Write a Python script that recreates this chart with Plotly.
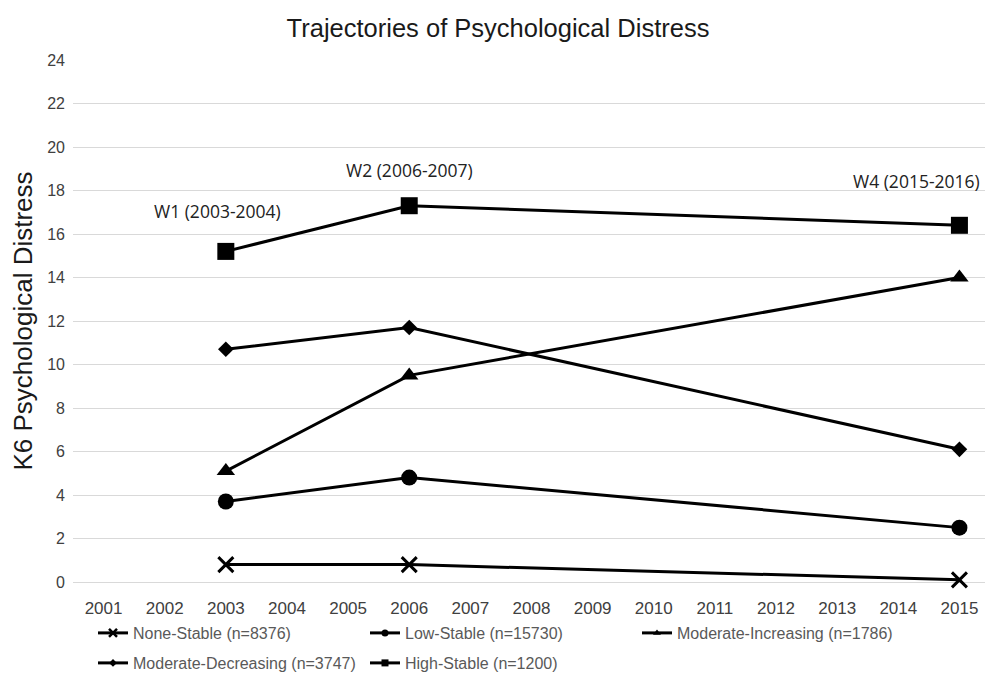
import plotly.graph_objects as go

years = list(range(2001, 2016))
wave_years = [2003, 2006, 2015]

series_names = [
    "None-Stable (n=8376)",
    "Low-Stable (n=15730)",
    "Moderate-Increasing (n=1786)",
    "Moderate-Decreasing (n=3747)",
    "High-Stable (n=1200)",
]
none_stable = [0.8, 0.8, 0.1]
low_stable = [3.7, 4.8, 2.5]
moderate_increasing = [5.1, 9.5, 14.0]
moderate_decreasing = [10.7, 11.7, 6.1]
high_stable = [15.2, 17.3, 16.4]

wave_labels = ["W1 (2003-2004)", "W2 (2006-2007)", "W4 (2015-2016)"]
wave_label_x = [2002.87, 2006.0, 2014.3]
wave_label_y = [17.06, 18.94, 18.44]

series_values = [none_stable, low_stable, moderate_increasing, moderate_decreasing, high_stable]
symbols = ["x-thin", "circle", "triangle-up", "diamond", "square"]
sizes = [15, 16, 16, 12, 17]
legend_sizes = [8, 7, 7, 6, 7]
legend_ids = ["legend", "legend", "legend", "legend2", "legend2"]

# The page body has an 8px margin, so the figure is drawn 8px smaller and offset.
W, H = 985, 668
OFF = 8

fig = go.Figure()
for name, vals, sym, sz in zip(series_names, series_values, symbols, sizes):
    marker = dict(symbol=sym, size=sz, color="black")
    if sym == "x-thin":
        marker["line"] = dict(width=3, color="black")
    fig.add_trace(go.Scatter(
        x=wave_years, y=vals, name=name, mode="lines+markers",
        line=dict(color="black", width=3), marker=marker, cliponaxis=False,
        showlegend=False,
    ))

# legend-only entries with small symbols, as in the reference
for name, sym, lsz, lg in zip(series_names, symbols, legend_sizes, legend_ids):
    marker = dict(symbol=sym, size=lsz, color="black")
    if sym == "x-thin":
        marker["line"] = dict(width=2.5, color="black")
    fig.add_trace(go.Scatter(
        x=[None], y=[None], name=name, mode="lines+markers",
        line=dict(color="black", width=3), marker=marker,
        legend=lg, showlegend=True,
    ))

for t, xx, yy in zip(wave_labels, wave_label_x, wave_label_y):
    fig.add_annotation(x=xx, y=yy, text=t, showarrow=False,
                       font=dict(family="Open Sans", size=17.5, color="#222"))

legend_common = dict(orientation="h", xref="container", yref="container",
                     xanchor="left", yanchor="middle",
                     entrywidth=227, entrywidthmode="pixels",
                     font=dict(size=16, color="#595959"),
                     traceorder="normal", bgcolor="rgba(0,0,0,0)")

fig.update_layout(
    width=W, height=H,
    margin=dict(l=73 - OFF, r=3, t=60 - OFF, b=94),
    paper_bgcolor="white", plot_bgcolor="white",
    font=dict(family="Liberation Sans, Arial", color="#333"),
    title=dict(text="Trajectories of Psychological Distress", x=(498 - OFF) / W, xanchor="center",
               xref="container",
               y=1 - (28 - OFF) / H, yanchor="middle", font=dict(size=25.5, color="#1a1a1a")),
    legend=dict(x=(93 - OFF) / W, y=1 - (633 - OFF) / H, **legend_common),
    legend2=dict(x=(93 - OFF) / W, y=1 - (663 - OFF) / H, **legend_common),
    showlegend=True,
)
fig.update_xaxes(range=[2000.5, 2015.5], tickvals=years, ticktext=[str(y) for y in years],
                 showgrid=False, zeroline=False, showline=False, ticks="",
                 ticklabelstandoff=14, automargin=False,
                 tickfont=dict(size=17, color="#404040"))
fig.update_yaxes(range=[0, 24], dtick=2, tick0=0, showgrid=True, gridcolor="#d9d9d9",
                 gridwidth=1, zeroline=True, zerolinecolor="#d9d9d9", zerolinewidth=1,
                 showline=False, ticks="", ticklabelstandoff=7, automargin=False,
                 tickfont=dict(size=16, color="#404040"),
                 title=dict(text="K6 Psychological Distress", font=dict(size=26, color="#1a1a1a"),
                            standoff=8))

fig.write_html("out.html")
